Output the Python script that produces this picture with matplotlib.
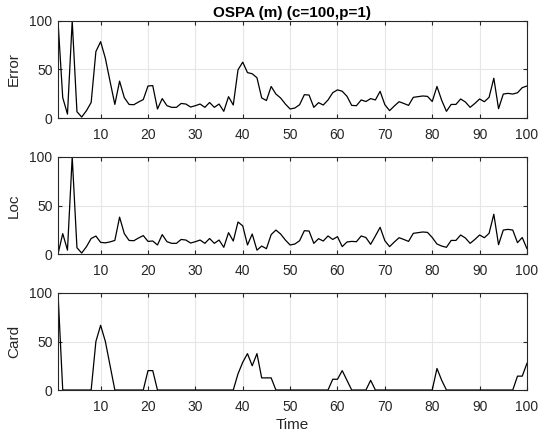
import matplotlib
matplotlib.use("Agg")
import matplotlib.pyplot as plt
import numpy as np

plt.rcParams['font.family'] = ['Liberation Sans', 'DejaVu Sans']

# time steps
time = np.arange(1, 101)

# localisation component
loc = [0, 21, 4, 100, 6.5, 1, 7.5, 16, 18.5, 12,
       11.5, 12.5, 14, 38, 21, 14, 13.7, 16.5, 19, 13,
       13.4, 9.3, 20, 12.7, 11, 11, 15, 14.4, 11.3, 12.7,
       14.4, 11, 16, 11, 14.4, 6.9, 22, 13.4, 33, 29,
       9.3, 20.6, 4, 8.2, 5.5, 20, 24.7, 20.6, 14.4, 9.3,
       10.3, 13.7, 24, 23.7, 11, 15.8, 13.4, 18.6, 15, 17.9,
       7.6, 12.4, 13, 12.7, 18.6, 17, 10, 18.6, 27.5, 13.7,
       7.6, 12.4, 16.8, 15, 13, 21.3, 22, 22.7, 22.3, 17,
       10.3, 8.2, 6.9, 14, 14, 19.6, 16.5, 11, 15, 19.6,
       16.8, 21.3, 41, 9.6, 24.7, 25.4, 24.7, 11.7, 17, 5.5]

# cardinality component (bottom panel)
card = [100, 0, 0, 0, 0, 0, 0, 0, 50, 66.7,
        50, 25, 0, 0, 0, 0, 0, 0, 0, 20,
        20, 0, 0, 0, 0, 0, 0, 0, 0, 0,
        0, 0, 0, 0, 0, 0, 0, 0, 16.7, 28.6,
        37.5, 25, 37.5, 12.5, 12.5, 12.5, 0, 0, 0, 0,
        0, 0, 0, 0, 0, 0, 0, 0, 11.1, 11.1,
        20, 10, 0, 0, 0, 0, 10, 0, 0, 0,
        0, 0, 0, 0, 0, 0, 0, 0, 0, 0,
        22.2, 10, 0, 0, 0, 0, 0, 0, 0, 0,
        0, 0, 0, 0, 0, 0, 0, 14.3, 14.3, 27.5]

# total OSPA error (top panel)
error = [100, 21, 4, 100, 6.5, 1, 7.5, 16, 68.5, 78.7,
         61.5, 37.5, 14, 38, 21, 14, 13.7, 16.5, 19, 33,
         33.4, 9.3, 20, 12.7, 11, 11, 15, 14.4, 11.3, 12.7,
         14.4, 11, 16, 11, 14.4, 6.9, 22, 13.4, 49.7, 57.6,
         46.8, 45.6, 41.5, 20.7, 18, 32.5, 24.7, 20.6, 14.4, 9.3,
         10.3, 13.7, 24, 23.7, 11, 15.8, 13.4, 18.6, 26.1, 29,
         27.6, 22.4, 13, 12.7, 18.6, 17, 20, 18.6, 27.5, 13.7,
         7.6, 12.4, 16.8, 15, 13, 21.3, 22, 22.7, 22.3, 17,
         32.5, 18.2, 6.9, 14, 14, 19.6, 16.5, 11, 15, 19.6,
         16.8, 21.3, 41, 9.6, 24.7, 25.4, 24.7, 26, 31.3, 33]

labels = ['Error', 'Loc', 'Card']
series = [error, loc, card]

fig = plt.figure(figsize=(5.38, 4.4), dpi=100)
bottoms = [0.7318, 0.4227, 0.1136]
axes = []
for b, lab, vals in zip(bottoms, labels, series):
    ax = fig.add_axes([0.1078, b, 0.8717, 0.2205])
    ax.plot(time, vals, color='black', linewidth=0.9)
    ax.set_xlim(1, 100)
    ax.set_ylim(0, 100)
    ax.set_xticks(np.arange(10, 101, 10))
    ax.set_yticks([0, 50, 100])
    ax.grid(True, color='#e6e6e6', linewidth=0.8)
    ax.set_axisbelow(True)
    ax.tick_params(direction='in', top=True, right=True, length=3,
                   labelsize=10, colors='#262626')
    ax.tick_params(axis='x', pad=7)
    ax.tick_params(axis='y', pad=4)
    for s in ax.spines.values():
        s.set_color('#262626')
        s.set_linewidth(0.8)
    ax.set_ylabel(lab, fontsize=11, color='#262626', labelpad=6)
    axes.append(ax)

axes[0].set_title('OSPA (m) (c=100,p=1)', fontsize=11, fontweight='bold', pad=3)
axes[2].set_xlabel('Time', fontsize=11, color='#262626', labelpad=3)

fig.savefig('out.png', dpi=100)
